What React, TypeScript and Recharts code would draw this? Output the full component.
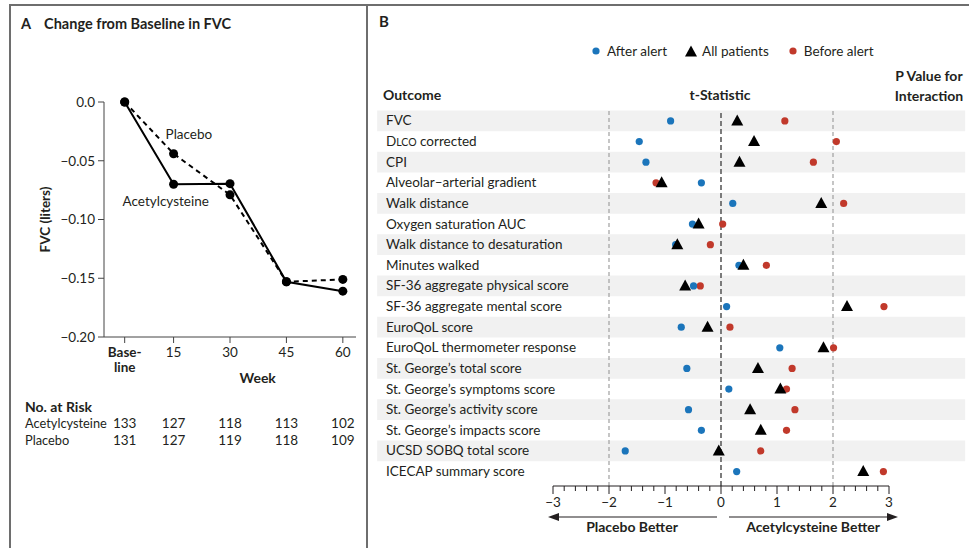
import {
  LineChart,
  Line,
  XAxis,
  YAxis,
  ScatterChart,
  Scatter,
  ReferenceLine,
  ReferenceArea,
  Legend,
} from "recharts"

const FONT = "Lato, 'Open Sans', sans-serif"
const INK = "#231f20"
const BLUE = "#1b75bb"
const RED = "#c1392b"

// ---- panel A: change from baseline in FVC
// baseline sits a little to the right of week 0 in the figure
const weeks = [2, 15, 30, 45, 60]
const weekLabels = ["Base-\nline", "15", "30", "45", "60"]
const fvcAcetylcysteine = [0, -0.07, -0.0695, -0.153, -0.161]
const fvcPlacebo = [0, -0.044, -0.079, -0.153, -0.151]
const riskAcetylcysteine = [133, 127, 118, 113, 102]
const riskPlacebo = [131, 127, 119, 118, 109]
const fvcTicks = [0, -0.05, -0.1, -0.15, -0.2]

// ---- panel B: t-statistics by outcome
const outcomes = [
  "FVC",
  "DLCO corrected",
  "CPI",
  "Alveolar–arterial gradient",
  "Walk distance",
  "Oxygen saturation AUC",
  "Walk distance to desaturation",
  "Minutes walked",
  "SF-36 aggregate physical score",
  "SF-36 aggregate mental score",
  "EuroQoL score",
  "EuroQoL thermometer response",
  "St. George’s total score",
  "St. George’s symptoms score",
  "St. George’s activity score",
  "St. George’s impacts score",
  "UCSD SOBQ total score",
  "ICECAP summary score",
]
const afterAlert = [-0.9, -1.46, -1.34, -0.35, 0.21, -0.51, -0.81, 0.32, -0.49, 0.1, -0.71, 1.05, -0.61, 0.14, -0.58, -0.35, -1.71, 0.28]
const allPatients = [0.29, 0.59, 0.33, -1.06, 1.79, -0.4, -0.78, 0.4, -0.64, 2.25, -0.24, 1.83, 0.66, 1.06, 0.52, 0.71, -0.04, 2.54]
const beforeAlert = [1.14, 2.06, 1.65, -1.16, 2.19, 0.03, -0.19, 0.81, -0.37, 2.91, 0.16, 2.01, 1.27, 1.17, 1.32, 1.17, 0.71, 2.9]
const pValues = ["0.16", "0.02", "0.04", "0.70", "0.20", "0.72", "0.65", "0.76", "0.89", "0.08", "0.51", "0.56", "0.19", "0.45", "0.20", "0.29", "0.10", "0.10"]
const tMajorTicks = [-3, -2, -1, 0, 1, 2, 3]
const legendOrder = ["After alert", "All patients", "Before alert"]

const fvcData = weeks.map((w, i) => ({
  week: w,
  acetylcysteine: fvcAcetylcysteine[i],
  placebo: fvcPlacebo[i],
}))

const rows = outcomes.map((_, i) => i + 1)
const toPoints = (vals: number[]) => vals.map((t, i) => ({ t, row: i + 1 }))
// minor ticks every 0.2 between the labelled ones
const tTicks = Array.from({ length: 31 }, (_, i) => Math.round((-3 + i * 0.2) * 10) / 10)

const fmtMinus = (v: number) => (v < 0 ? `−${Math.abs(v)}` : `${v}`)

function WeekTick({ x, y, payload }: any) {
  const i = weeks.indexOf(payload.value)
  const parts = (weekLabels[i] ?? "").split("\n")
  return (
    <text x={x} y={y} textAnchor="middle" fontFamily={FONT} fontSize={13.5} fontWeight={i === 0 ? 700 : 400} fill={INK}>
      {parts.map((p, k) => (
        <tspan key={k} x={x} dy={k === 0 ? 11 : 15}>
          {p}
        </tspan>
      ))}
    </text>
  )
}

function riskTick(counts: number[]) {
  return ({ x, y, payload }: any) => (
    <text x={x} y={y + 28.5} textAnchor="middle" fontFamily={FONT} fontSize={13.5} fill={INK}>
      {counts[weeks.indexOf(payload.value)]}
    </text>
  )
}

function RowName({ viewBox, name, header }: any) {
  return (
    <g fontFamily={FONT} fill={INK}>
      {header && (
        <text x={25} y={viewBox.y + 12.5} fontSize={14} fontWeight={700}>
          {header}
        </text>
      )}
      <text x={25} y={viewBox.y + 28.5} fontSize={12.8}>
        {name}
      </text>
    </g>
  )
}

function FvcTitle({ viewBox }: any) {
  const cx = viewBox.x + 1
  const cy = viewBox.y + viewBox.height / 2
  return (
    <text x={cx} y={cy} transform={`rotate(-90 ${cx} ${cy})`} textAnchor="middle" dominantBaseline="central" fontFamily={FONT} fontSize={13.5} fontWeight={700} fill={INK}>
      FVC (liters)
    </text>
  )
}

function WeekTitle({ viewBox }: any) {
  return (
    <text x={viewBox.x + viewBox.width * 0.61} y={viewBox.y + 46} textAnchor="middle" fontFamily={FONT} fontSize={14} fontWeight={700} fill={INK}>
      Week
    </text>
  )
}

function seriesName(text: string, dx: number, dy: number) {
  return (p: any) =>
    p.index === 1 ? (
      <text x={p.x + dx} y={p.y + dy} fontFamily={FONT} fontSize={13.5} fill={INK}>
        {text}
      </text>
    ) : (
      <g />
    )
}

function OutcomeTick({ y, payload }: any) {
  const label = outcomes[payload.value - 1] ?? ""
  const smallCaps = label.startsWith("DLCO")
  return (
    <text x={16} y={y + 4.5} fontFamily={FONT} fontSize={13.5} fill={INK}>
      {smallCaps ? (
        <>
          D<tspan fontSize={10.5}>LCO</tspan>
          {label.slice(4)}
        </>
      ) : (
        label
      )}
    </text>
  )
}

function PTick({ x, y, payload }: any) {
  return (
    <text x={x + 40} y={y + 4.5} textAnchor="middle" fontFamily={FONT} fontSize={13.5} fill={INK}>
      {pValues[payload.value - 1]}
    </text>
  )
}

function TTick({ x, y, payload }: any) {
  const v = payload.value
  const major = tMajorTicks.includes(v)
  return (
    <g>
      <line x1={x} x2={x} y1={y} y2={y + (major ? 8 : 5)} stroke={INK} strokeWidth={1} />
      {major && (
        <text x={x} y={y + 21} textAnchor="middle" fontFamily={FONT} fontSize={13.5} fill={INK}>
          {fmtMinus(v)}
        </text>
      )}
    </g>
  )
}

function BetterArrows({ viewBox }: any) {
  const zero = viewBox.x + viewBox.width / 2
  const ay = viewBox.y + 31
  const ty = viewBox.y + 46
  const l1 = zero - 173
  const l2 = zero - 4
  const r1 = zero + 8
  const r2 = zero + 177
  return (
    <g fontFamily={FONT} fill={INK}>
      <line x1={l1 + 8} x2={l2} y1={ay} y2={ay} stroke={INK} strokeWidth={1.2} />
      <path d={`M${l1},${ay} L${l1 + 11},${ay - 4} L${l1 + 11},${ay + 4} Z`} fill={INK} />
      <line x1={r1} x2={r2 - 8} y1={ay} y2={ay} stroke={INK} strokeWidth={1.2} />
      <path d={`M${r2},${ay} L${r2 - 11},${ay - 4} L${r2 - 11},${ay + 4} Z`} fill={INK} />
      <text x={zero - 89} y={ty} textAnchor="middle" fontSize={14} fontWeight={700}>
        Placebo Better
      </text>
      <text x={zero + 92} y={ty} textAnchor="middle" fontSize={14} fontWeight={700}>
        Acetylcysteine Better
      </text>
    </g>
  )
}

function Triangle({ cx, cy }: any) {
  return <path d={`M${cx},${cy - 6.5} L${cx + 6},${cy + 4.5} L${cx - 6},${cy + 4.5} Z`} fill="#000" />
}

function Dot({ cx, cy, fill }: any) {
  return <circle cx={cx} cy={cy} r={3.6} fill={fill} />
}

function LegendContent({ payload }: any) {
  const items = [...(payload ?? [])].sort((a: any, b: any) => legendOrder.indexOf(a.value) - legendOrder.indexOf(b.value))
  return (
    <div style={{ display: "flex", alignItems: "center", gap: 18, fontFamily: FONT, fontSize: 13.5, color: INK }}>
      {items.map((it: any) => (
        <div key={it.value} style={{ display: "flex", alignItems: "center", gap: 5 }}>
          <svg width={12} height={12}>
            {it.value === "All patients" ? (
              <path d="M6,0.5 L12,11.5 L0,11.5 Z" fill="#000" />
            ) : (
              <circle cx={6} cy={6} r={3.6} fill={it.color} />
            )}
          </svg>
          <span>{it.value}</span>
        </div>
      ))}
    </div>
  )
}

const abs = (s: any) => ({ position: "absolute" as const, ...s })

// bottom axes stack nearest-first by id, so the ids keep week, then the two risk rows
const WEEK_AXIS = "a_week"
const RISK_A_AXIS = "b_riskA"
const RISK_P_AXIS = "c_riskP"

export default function App() {
  return (
    <div style={abs({ left: 0, top: 0, width: 969, height: 548, background: "#fff", overflow: "hidden", fontFamily: FONT, color: INK })}>
      {/* frame */}
      <div style={abs({ left: 9, top: 4, width: 960, height: 2, background: "#6e6e6e" })} />
      <div style={abs({ left: 9, top: 4, width: 2, height: 544, background: "#6e6e6e" })} />
      <div style={abs({ left: 366, top: 4, width: 2, height: 544, background: "#6e6e6e" })} />

      {/* panel A */}
      <div style={abs({ left: 0, top: 0 })}>
        <LineChart width={367} height={548} data={fvcData} margin={{ top: 102, right: 11, bottom: 115, left: 44 }}>
          <XAxis
            xAxisId={WEEK_AXIS}
            dataKey="week"
            type="number"
            domain={[-3.5, 63.5]}
            ticks={weeks}
            interval={0}
            height={62}
            tickSize={6}
            tickMargin={3}
            stroke="#444"
            tick={WeekTick}
            label={<WeekTitle />}
          />
          <XAxis
            xAxisId={RISK_A_AXIS}
            dataKey="week"
            type="number"
            domain={[-3.5, 63.5]}
            ticks={weeks}
            interval={0}
            height={17}
            axisLine={false}
            tickLine={false}
            tickSize={0}
            tickMargin={0}
            tick={riskTick(riskAcetylcysteine)}
            label={<RowName name="Acetylcysteine" header="No. at Risk" />}
          />
          <XAxis
            xAxisId={RISK_P_AXIS}
            dataKey="week"
            type="number"
            domain={[-3.5, 63.5]}
            ticks={weeks}
            interval={0}
            height={17}
            axisLine={false}
            tickLine={false}
            tickSize={0}
            tickMargin={0}
            tick={riskTick(riskPlacebo)}
            label={<RowName name="Placebo" />}
          />
          <YAxis
            type="number"
            domain={[-0.2, 0]}
            ticks={fvcTicks}
            interval={0}
            width={60}
            tickSize={6}
            tickMargin={3}
            stroke="#444"
            tick={{ fontFamily: FONT, fontSize: 13.5, fill: INK }}
            tickFormatter={(v: number) => (v === 0 ? "0.0" : `−${Math.abs(v).toFixed(2)}`)}
            label={<FvcTitle />}
          />
          <Line
            xAxisId={WEEK_AXIS}
            dataKey="placebo"
            stroke="#000"
            strokeWidth={2}
            strokeDasharray="5 4"
            dot={{ r: 4.5, fill: "#000", stroke: "#000", strokeWidth: 0 }}
            label={seriesName("Placebo", -8, -15)}
            isAnimationActive={false}
          />
          <Line
            xAxisId={WEEK_AXIS}
            dataKey="acetylcysteine"
            stroke="#000"
            strokeWidth={2}
            dot={{ r: 4.5, fill: "#000", stroke: "#000", strokeWidth: 0 }}
            label={seriesName("Acetylcysteine", -51, 22)}
            isAnimationActive={false}
          />
        </LineChart>
      </div>
      <div style={abs({ left: 21, top: 15, fontSize: 14.5, fontWeight: 700 })}>
        A<span style={{ marginLeft: 13 }}>Change from Baseline in FVC</span>
      </div>

      {/* panel B */}
      <div style={abs({ left: 370, top: 0 })}>
        <ScatterChart width={599} height={548} margin={{ top: 110.6, right: 0, bottom: 0, left: 0 }}>
          <XAxis
            dataKey="t"
            type="number"
            domain={[-3, 3]}
            ticks={tTicks}
            interval={0}
            height={62}
            tickLine={false}
            tickSize={0}
            tickMargin={0}
            axisLine={{ stroke: INK, strokeWidth: 1 }}
            tick={TTick}
            label={<BetterArrows />}
          />
          <YAxis
            yAxisId="rows"
            dataKey="row"
            type="number"
            domain={[0.5, 18.7]}
            reversed
            ticks={rows}
            interval={0}
            width={183}
            axisLine={false}
            tickLine={false}
            tickSize={0}
            tickMargin={0}
            tick={OutcomeTick}
          />
          <YAxis
            yAxisId="p"
            orientation="right"
            type="number"
            domain={[0.5, 18.7]}
            reversed
            ticks={rows}
            interval={0}
            width={80}
            axisLine={false}
            tickLine={false}
            tickSize={0}
            tickMargin={0}
            tick={PTick}
          />
          {rows
            .filter((r) => r % 2 === 1)
            .map((r) => (
              <ReferenceArea
                key={r}
                yAxisId="rows"
                y1={r - 0.5}
                y2={r + 0.5}
                x1={-6.14}
                x2={4.36}
                ifOverflow="visible"
                fill="#f1f1f1"
                fillOpacity={1}
                stroke="none"
              />
            ))}
          <ReferenceLine yAxisId="rows" x={-2} stroke="#a0a0a0" strokeDasharray="4 3" strokeWidth={1.2} />
          <ReferenceLine yAxisId="rows" x={0} stroke="#6e6e6e" strokeDasharray="5 3" strokeWidth={1.8} />
          <ReferenceLine yAxisId="rows" x={2} stroke="#a0a0a0" strokeDasharray="4 3" strokeWidth={1.2} />
          <Scatter yAxisId="rows" name="Before alert" data={toPoints(beforeAlert)} fill={RED} shape={Dot} legendType="circle" isAnimationActive={false} />
          <Scatter yAxisId="rows" name="After alert" data={toPoints(afterAlert)} fill={BLUE} shape={Dot} legendType="circle" isAnimationActive={false} />
          <Scatter yAxisId="rows" name="All patients" data={toPoints(allPatients)} fill="#000" shape={Triangle} legendType="triangle" isAnimationActive={false} />
          <Legend verticalAlign="middle" content={LegendContent} wrapperStyle={{ top: 43, left: 220, width: 320, height: 18 }} />
        </ScatterChart>
      </div>
      <div style={abs({ left: 379, top: 12, fontSize: 15, fontWeight: 700 })}>B</div>
      <div style={abs({ left: 383, top: 86, fontSize: 14, fontWeight: 700 })}>Outcome</div>
      <div style={abs({ left: 670, width: 100, top: 86, fontSize: 14, fontWeight: 700, textAlign: "center" })}>t-Statistic</div>
      <div style={abs({ left: 884, width: 90, top: 66, fontSize: 14, fontWeight: 700, textAlign: "center", lineHeight: "20px" })}>
        P Value for
        <br />
        Interaction
      </div>
    </div>
  )
}
